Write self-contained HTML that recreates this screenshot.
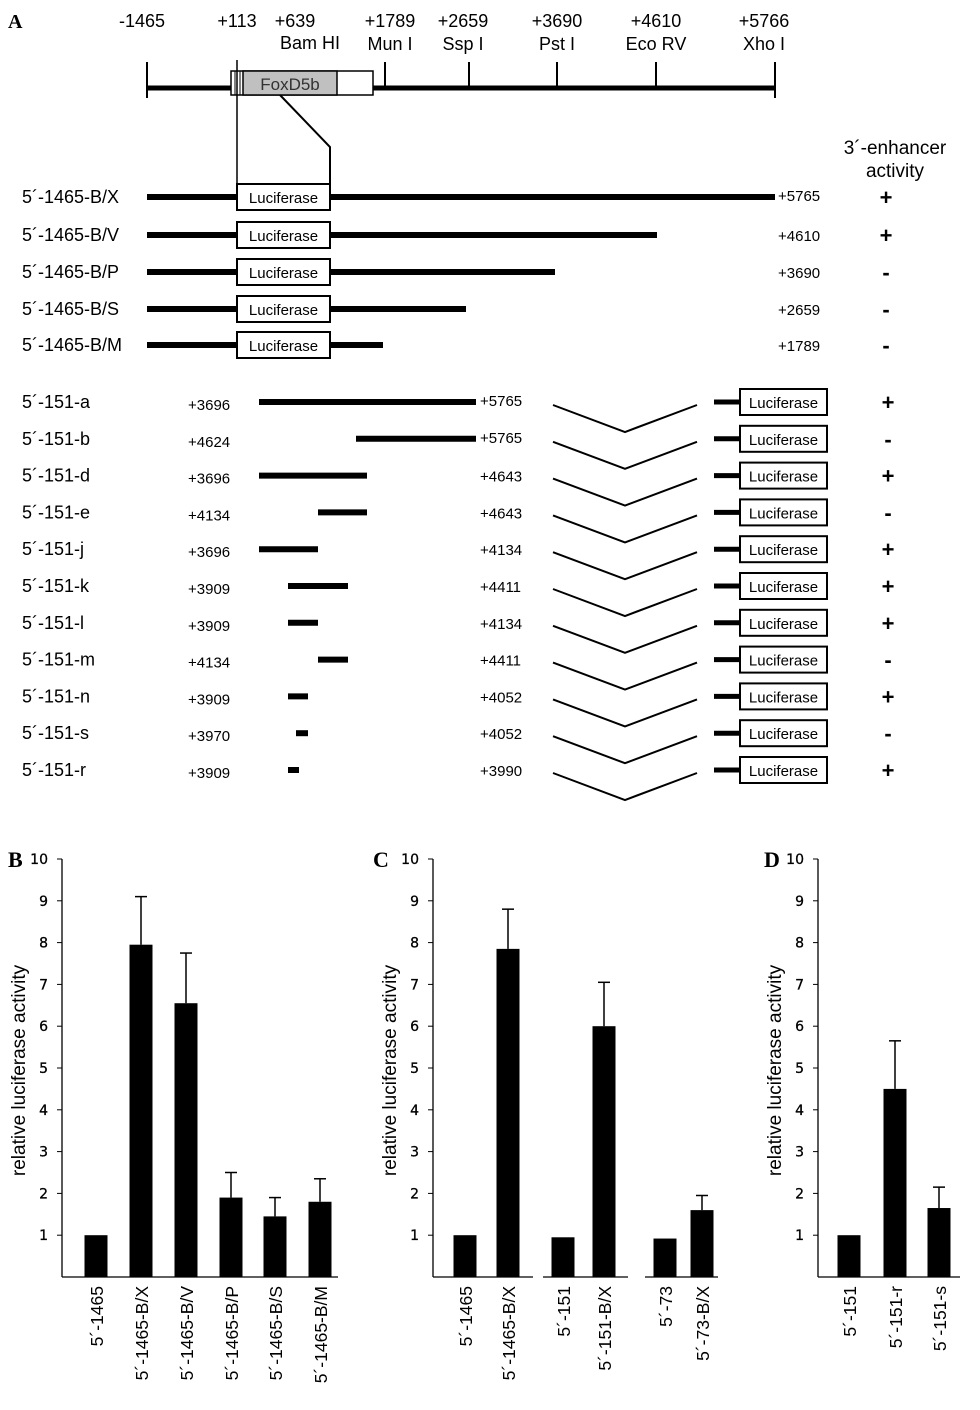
<!DOCTYPE html>
<html><head><meta charset="utf-8"><style>
body{margin:0;background:#fff}
svg{display:block;font-family:"Liberation Sans",sans-serif}
</style></head><body>
<svg id="fig" width="980" height="1410" viewBox="0 0 980 1410">
<text x="8" y="28" font-family="Liberation Serif" font-weight="bold" font-size="20">A</text>
<g id="top" font-size="18" text-anchor="middle">
<line x1="147" y1="88" x2="775" y2="88" stroke="#000" stroke-width="5"/>
<line x1="147" y1="62" x2="147" y2="98" stroke="#000" stroke-width="2"/>
<line x1="775" y1="62" x2="775" y2="98" stroke="#000" stroke-width="2"/>
<line x1="385" y1="62" x2="385" y2="88" stroke="#000" stroke-width="2"/>
<line x1="469" y1="62" x2="469" y2="88" stroke="#000" stroke-width="2"/>
<line x1="557" y1="62" x2="557" y2="88" stroke="#000" stroke-width="2"/>
<line x1="656" y1="62" x2="656" y2="88" stroke="#000" stroke-width="2"/>
<rect x="231" y="71" width="142" height="24" fill="#fff" stroke="#000" stroke-width="1.5"/>
<rect x="243" y="71" width="94" height="24" fill="#c0c0c0" stroke="#000" stroke-width="1.5"/>
<line x1="235" y1="71" x2="235" y2="95" stroke="#000"/>
<line x1="240" y1="71" x2="240" y2="95" stroke="#000"/>
<text x="290" y="90" font-size="17" fill="#333">FoxD5b</text>
<line x1="237" y1="60" x2="237" y2="185" stroke="#000" stroke-width="1.5"/>
<polyline points="280,95 330,147 330,185" fill="none" stroke="#000" stroke-width="2"/>
<text x="142" y="27">-1465</text><text x="237" y="27">+113</text><text x="295" y="27">+639</text>
<text x="390" y="27">+1789</text><text x="463" y="27">+2659</text><text x="557" y="27">+3690</text>
<text x="656" y="27">+4610</text><text x="764" y="27">+5766</text>
<text x="310" y="49">Bam HI</text><text x="390" y="50">Mun I</text><text x="463" y="50">Ssp I</text>
<text x="557" y="50">Pst I</text><text x="656" y="50">Eco RV</text><text x="764" y="50">Xho I</text>
<text x="895" y="154" font-size="19">3´-enhancer</text><text x="895" y="177" font-size="19">activity</text>
</g>
<g id="rows" font-size="18"></g>
<g id="charts"></g>
</svg>
<script>
// construct data
const longNames=["5´-1465-B/X","5´-1465-B/V","5´-1465-B/P","5´-1465-B/S","5´-1465-B/M"];
const longEnds=["+5765","+4610","+3690","+2659","+1789"];
const longEndPos=[5765,4610,3690,2659,1789];
const longAct=["+","+","-","-","-"];
const shortNames=["5´-151-a","5´-151-b","5´-151-d","5´-151-e","5´-151-j","5´-151-k","5´-151-l","5´-151-m","5´-151-n","5´-151-s","5´-151-r"];
const shortStart=[3696,4624,3696,4134,3696,3909,3909,4134,3909,3970,3909];
const shortEnd=[5765,5765,4643,4643,4134,4411,4134,4411,4052,4052,3990];
const shortAct=["+","-","+","-","+","+","+","-","+","-","+"];
// chart data
const bCats=["5´-1465","5´-1465-B/X","5´-1465-B/V","5´-1465-B/P","5´-1465-B/S","5´-1465-B/M"];
const bVals=[1,7.95,6.55,1.9,1.45,1.8];
const bErr=[0,1.15,1.2,0.6,0.45,0.55];
const cCats=["5´-1465","5´-1465-B/X","5´-151","5´-151-B/X","5´-73","5´-73-B/X"];
const cVals=[1,7.85,0.95,6.0,0.92,1.6];
const cErr=[0,0.95,0,1.05,0,0.35];
const dCats=["5´-151","5´-151-r","5´-151-s"];
const dVals=[1,4.5,1.65];
const dErr=[0,1.15,0.5];
const yTicks=[1,2,3,4,5,6,7,8,9,10];

const NS="http://www.w3.org/2000/svg";
function mk(tag,attrs,parent,txt){const e=document.createElementNS(NS,tag);for(const k in attrs)e.setAttribute(k,attrs[k]);if(txt!==undefined)e.textContent=txt;parent.appendChild(e);return e;}
function interp(p,gp,px){for(let i=0;i<gp.length-1;i++){if(p<=gp[i+1]||i===gp.length-2){return px[i]+(p-gp[i])*(px[i+1]-px[i])/(gp[i+1]-gp[i]);}}}
const rows=document.getElementById('rows');
// genomic anchor scale (map ticks)
const topGP=[639,1789,2659,3690,4610,5765];
const topPX=[330,383,466,555,657,775];
const longRowY=[197,235,272,309,345];
longNames.forEach((n,i)=>{
  const y=longRowY[i];
  const g=mk('g',{},rows);
  
  
  mk('text',{x:22,y:y+6},g,n);
  mk('line',{x1:147,y1:y,x2:237,y2:y,stroke:'#000','stroke-width':6},g);
  mk('line',{x1:330,y1:y,x2:interp(longEndPos[i],topGP,topPX),y2:y,stroke:'#000','stroke-width':6},g);
  mk('rect',{x:237,y:y-13,width:93,height:26,fill:'#fff',stroke:'#000','stroke-width':2},g);
  mk('text',{x:283.5,y:y+6,'text-anchor':'middle','font-size':15},g,'Luciferase');
  mk('text',{x:778,y:y+(i===0?4:6),'font-size':15},g,longEnds[i]);
  mk('text',{x:886,y:y+8,'text-anchor':'middle','font-size':22,'font-weight':'bold'},g,longAct[i]);
});
const sGP=[3696,3909,3970,3990,4052,4134,4411,4624,4643,5765];
const sPX=[259,288,296,299,308,318,348,356,367,476];
shortNames.forEach((n,i)=>{
  const y=402+i*36.8;
  const g=mk('g',{},rows);
  
  
  mk('text',{x:22,y:y+6},g,n);
  mk('text',{x:188,y:y+8,'font-size':15},g,'+'+shortStart[i]);
  mk('line',{x1:interp(shortStart[i],sGP,sPX),y1:y,x2:interp(shortEnd[i],sGP,sPX),y2:y,stroke:'#000','stroke-width':6},g);
  mk('text',{x:480,y:y+(i<2?4:6),'font-size':15},g,'+'+shortEnd[i]);
  mk('polyline',{points:`553,${y+3} 625,${y+30} 697,${y+3}`,fill:'none',stroke:'#000','stroke-width':2},g);
  mk('line',{x1:714,y1:y,x2:740,y2:y,stroke:'#000','stroke-width':5},g);
  mk('rect',{x:740,y:y-13,width:87,height:26,fill:'#fff',stroke:'#000','stroke-width':2},g);
  mk('text',{x:783.5,y:y+6,'text-anchor':'middle','font-size':15},g,'Luciferase');
  mk('text',{x:888,y:y+8,'text-anchor':'middle','font-size':22,'font-weight':'bold'},g,shortAct[i]);
});
// charts
const charts=document.getElementById('charts');
const y0=1277,unit=41.8;
const yS=v=>y0-v*unit;
function chart(name,label,lx,axisX,segs,cats,vals,errs,centers){
  const g=mk('g',{},charts);
  
  
  mk('text',{x:lx,y:867,'font-family':'Liberation Serif','font-weight':'bold','font-size':22},g,label);
  mk('line',{x1:axisX,y1:859,x2:axisX,y2:y0,stroke:'#000','stroke-width':1.3},g);
  segs.forEach(s=>mk('line',{x1:s[0],y1:y0,x2:s[1],y2:y0,stroke:'#000','stroke-width':1.3},g));
  yTicks.forEach(t=>{
    mk('line',{x1:axisX-5,y1:yS(t),x2:axisX,y2:yS(t),stroke:'#000'},g);
    const tl=mk('text',{x:axisX-14,y:yS(t)+5,'text-anchor':'end','font-family':'DejaVu Sans','font-size':14,stroke:'#000','stroke-width':0.3},g,t);
    
    
  });
  const yt=mk('text',{transform:`translate(${axisX-37},${(860+y0)/2+2}) rotate(-90)`,'text-anchor':'middle','font-size':19},g,'relative luciferase activity');
  
  
  cats.forEach((c,i)=>{
    const cx=centers[i];
    if(errs[i]>0){
      mk('line',{x1:cx,y1:yS(vals[i]),x2:cx,y2:yS(vals[i]+errs[i]),stroke:'#000','stroke-width':1.5},g);
      mk('line',{x1:cx-6,y1:yS(vals[i]+errs[i]),x2:cx+6,y2:yS(vals[i]+errs[i]),stroke:'#000','stroke-width':1.5},g);
    }
    const b=mk('rect',{x:cx-11.5,y:yS(vals[i]),width:23,height:vals[i]*unit,fill:'#000'},g);
    
    
    const xl=mk('text',{transform:`translate(${cx+7},1286) rotate(-90)`,'text-anchor':'end','font-size':17.5},g,c);
    
    
  });
}
chart('b','B',8,62,[[62,338]],bCats,bVals,bErr,[96,141,186,231,275,320]);
chart('c','C',373,433,[[433,533],[543,628],[645,718]],cCats,cVals,cErr,[465,508,563,604,665,702]);
chart('d','D',764,818,[[818,960]],dCats,dVals,dErr,[849,895,939]);
</script>
</body></html>
